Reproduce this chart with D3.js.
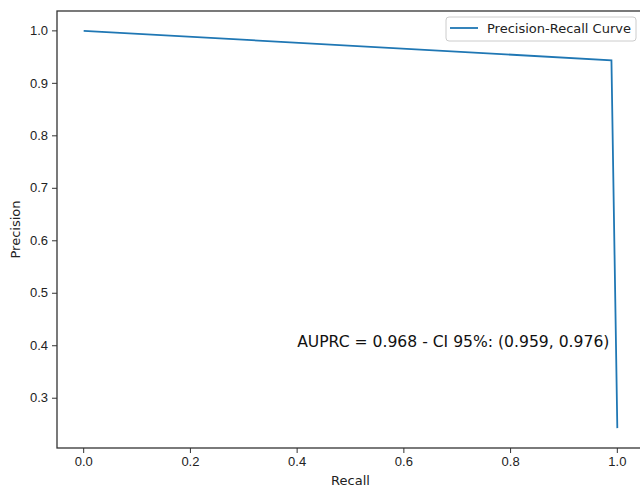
<!DOCTYPE html>
<html>
<head>
<meta charset="utf-8">
<script src="https://cdn.jsdelivr.net/npm/d3@7"></script>
<style>
  body { margin: 0; background: #fff; }
  svg { display: block; font-family: "DejaVu Sans", sans-serif; }
</style>
</head>
<body>
<div id="chart"></div>
<script>
// precision-recall points
const recall = [0.0, 0.989, 1.0];
const precision = [1.0, 0.944, 0.243];
const xTicks = [0.0, 0.2, 0.4, 0.6, 0.8, 1.0];
const yTicks = [0.3, 0.4, 0.5, 0.6, 0.7, 0.8, 0.9, 1.0];
const seriesName = "Precision-Recall Curve";
const annotation = "AUPRC = 0.968 - CI 95%: (0.959, 0.976)";

const width = 640;
const height = 487;
const margin = { left: 57, right: -4, top: 11, bottom: 39 };
const fontSize = "13px";

const svg = d3.select("#chart")
    .append("svg")
    .attr("width", width)
    .attr("height", height);

// matplotlib style 5% padding around the data
const yMin = d3.min(precision), yMax = d3.max(precision);
const yPad = (yMax - yMin) * 0.05;

const x = d3.scaleLinear()
    .domain([-0.05, 1.05])
    .range([margin.left, width - margin.right]);

const y = d3.scaleLinear()
    .domain([yMin - yPad, yMax + yPad])
    .range([height - margin.bottom, margin.top]);

// axes
svg.append("g")
    .attr("transform", `translate(0, ${height - margin.bottom})`)
    .call(d3.axisBottom(x).offset(0).tickValues(xTicks).tickFormat(d3.format(".1f")).tickSizeOuter(0).tickSize(5).tickPadding(4))
    .call(g => g.selectAll("text").style("font-size", fontSize).attr("fill", "#222"));

svg.append("g")
    .attr("transform", `translate(${margin.left}, 0)`)
    .call(d3.axisLeft(y).offset(0).tickValues(yTicks).tickFormat(d3.format(".1f")).tickSizeOuter(0).tickSize(5).tickPadding(4))
    .call(g => g.selectAll("text").style("font-size", fontSize).attr("fill", "#222"));

svg.selectAll(".domain").remove();
svg.selectAll(".tick line").attr("stroke", "#333").attr("stroke-width", 1);

// frame (all four spines)
svg.append("rect")
    .attr("x", margin.left)
    .attr("y", margin.top)
    .attr("width", x.range()[1] - margin.left)
    .attr("height", y.range()[0] - margin.top)
    .attr("fill", "none")
    .attr("stroke", "#333")
    .attr("stroke-width", 1.3);

// axis labels
svg.append("text")
    .attr("x", (margin.left + x.range()[1]) / 2)
    .attr("y", 485)
    .attr("text-anchor", "middle")
    .style("font-size", fontSize)
    .attr("fill", "#222")
    .text("Recall");

svg.append("text")
    .attr("transform", `translate(20, ${(margin.top + y.range()[0]) / 2}) rotate(-90)`)
    .attr("text-anchor", "middle")
    .style("font-size", fontSize)
    .attr("fill", "#222")
    .text("Precision");

// the curve
const line = d3.line()
    .x(d => x(d[0]))
    .y(d => y(d[1]));

svg.append("path")
    .datum(d3.zip(recall, precision))
    .attr("d", line)
    .attr("fill", "none")
    .attr("stroke", "#1f77b4")
    .attr("stroke-width", 1.8);

// annotation
svg.append("text")
    .attr("x", x(0.4))
    .attr("y", y(0.4) + 1)
    .style("font-size", "15.6px")
    .attr("fill", "#111")
    .text(annotation);

// legend
const legend = svg.append("g").attr("transform", "translate(446, 17)");
legend.append("rect")
    .attr("width", 190)
    .attr("height", 24)
    .attr("rx", 3)
    .attr("fill", "#fff")
    .attr("stroke", "#ccc");
legend.append("line")
    .attr("x1", 4).attr("x2", 32)
    .attr("y1", 11).attr("y2", 11)
    .attr("stroke", "#1f77b4")
    .attr("stroke-width", 1.8);
legend.append("text")
    .attr("x", 41)
    .attr("y", 16)
    .style("font-size", fontSize)
    .attr("fill", "#222")
    .text(seriesName);
</script>
</body>
</html>
